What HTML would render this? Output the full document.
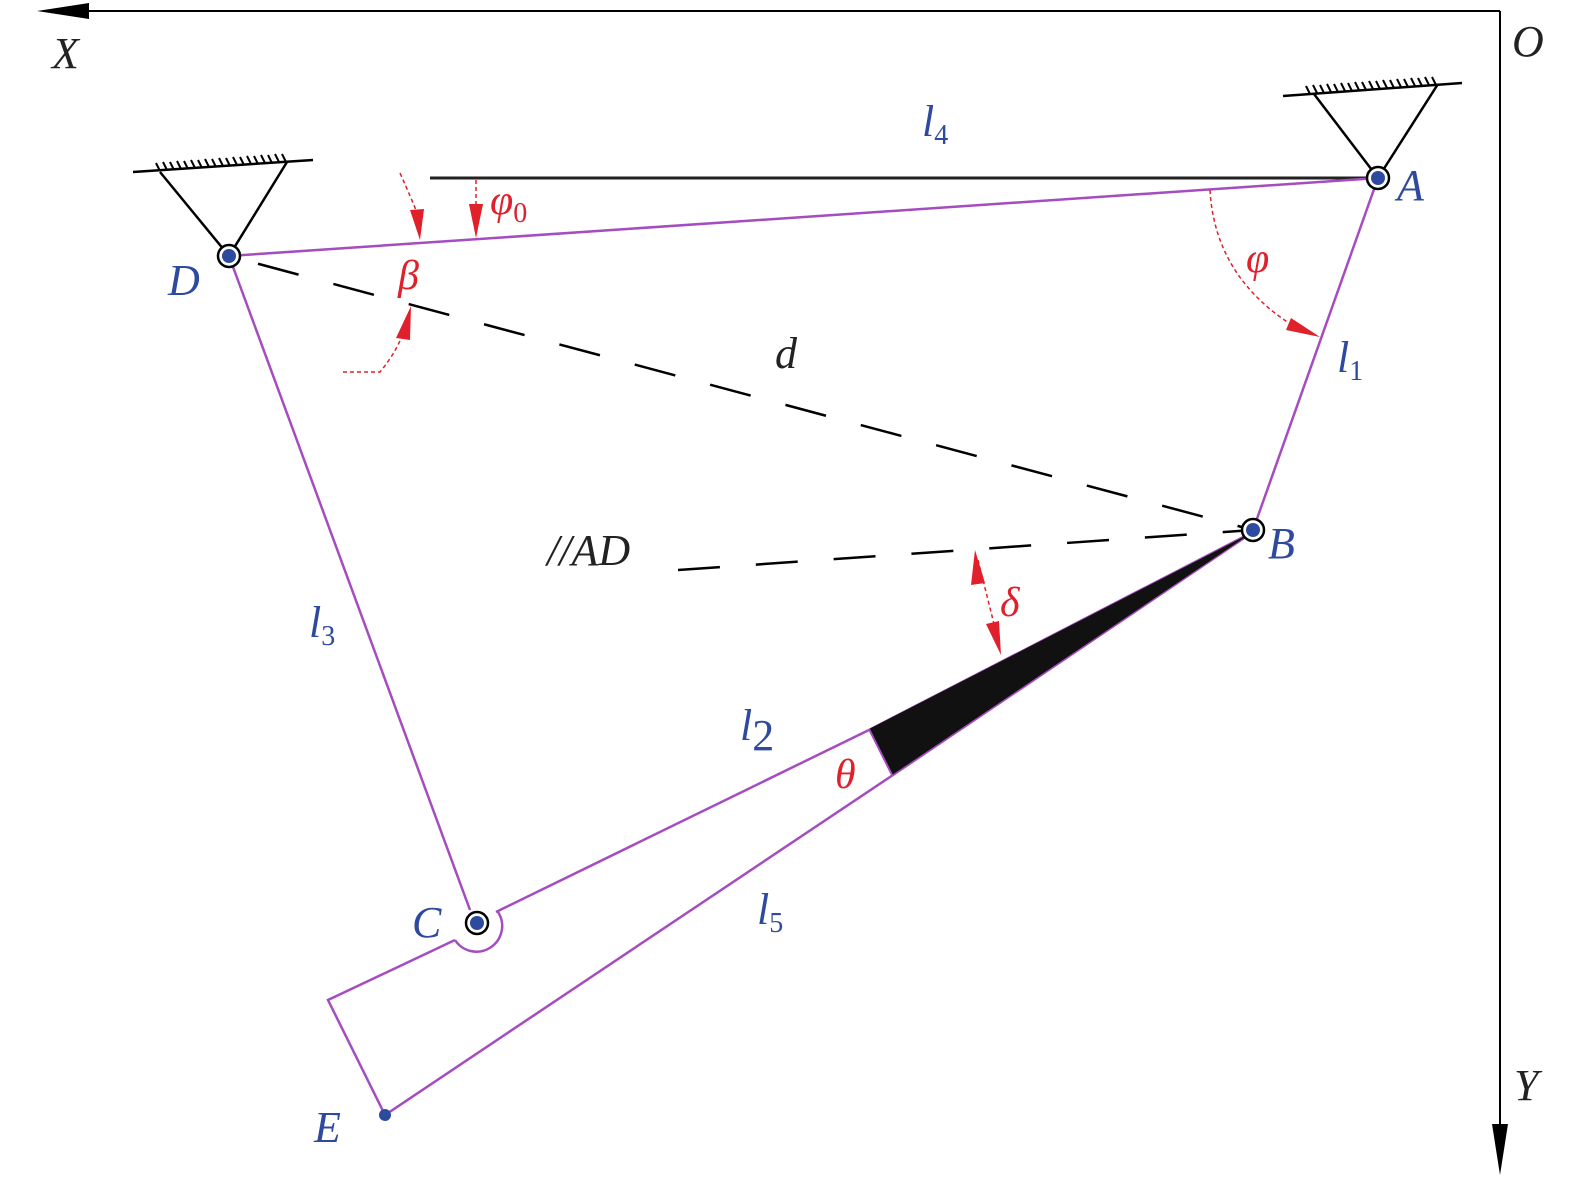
<!DOCTYPE html>
<html><head><meta charset="utf-8"><style>
html,body{margin:0;padding:0;background:#fff;}
svg{display:block;}
text{font-family:"Liberation Serif",serif;font-style:italic;}
.b{fill:#2e4a9e;font-size:44px;}
.r{fill:#e0202a;font-size:42px;}
.k{fill:#222;font-size:44px;}
</style></head><body>
<svg width="1575" height="1178" viewBox="0 0 1575 1178" xmlns="http://www.w3.org/2000/svg">
<line x1="80" y1="11" x2="1500" y2="11" stroke="#000" stroke-width="2"/>
<polygon points="37,11 89,3 89,19" fill="#000"/>
<line x1="1500" y1="11" x2="1500" y2="1130" stroke="#000" stroke-width="2"/>
<polygon points="1500,1175 1492,1124 1508,1124" fill="#000"/>
<text class="k" x="52" y="68">X</text>
<text class="k" x="1512" y="56">O</text>
<text class="k" x="1514" y="1100">Y</text>

<line x1="133" y1="172" x2="313" y2="160" stroke="#000" stroke-width="2.5"/>
<g stroke="#000" stroke-width="2">
<path d="M160,171l-4,-8M167,170l-4,-8M174,170l-4,-8M181,169l-4,-8M188,169l-4,-8M195,168l-4,-8M202,168l-4,-8M209,167l-4,-8M216,167l-4,-8M223,166l-4,-8M230,166l-4,-8M237,165l-4,-8M244,165l-4,-8M251,164l-4,-8M258,164l-4,-8M265,163l-4,-8M272,163l-4,-8M279,162l-4,-8M286,162l-4,-8"/>
</g>
<polyline points="160,172 229,256 287,162" fill="none" stroke="#000" stroke-width="2.5"/>
<line x1="1283" y1="96" x2="1462" y2="83" stroke="#000" stroke-width="2.5"/>
<g stroke="#000" stroke-width="2">
<path d="M1310,94l-4,-8M1317,93l-4,-8M1324,93l-4,-8M1331,92l-4,-8M1338,92l-4,-8M1345,91l-4,-8M1352,91l-4,-8M1359,90l-4,-8M1366,90l-4,-8M1373,89l-4,-8M1380,89l-4,-8M1387,88l-4,-8M1394,88l-4,-8M1401,87l-4,-8M1408,87l-4,-8M1415,86l-4,-8M1422,86l-4,-8M1429,85l-4,-8M1436,85l-4,-8"/>
</g>
<polyline points="1314,94 1378,178 1438,84" fill="none" stroke="#000" stroke-width="2.5"/>

<line x1="430" y1="178" x2="1378" y2="178" stroke="#222" stroke-width="3"/>

<line x1="229" y1="256" x2="1253" y2="530" stroke="#000" stroke-width="2.5" stroke-dasharray="42,36" stroke-dashoffset="-30"/>
<line x1="678" y1="570" x2="1253" y2="530" stroke="#000" stroke-width="2.5" stroke-dasharray="42,36"/>

<g stroke="#a54cc0" stroke-width="2.5" fill="none">
<line x1="229" y1="256" x2="1378" y2="178"/>
<line x1="1378" y1="178" x2="1253" y2="530"/>
<line x1="229" y1="256" x2="470" y2="910"/>
<polyline points="496,912 871,729 1253,532 893,775 385,1115 328,1000 455,940"/>
<path d="M455,940 A22,22 0 0 0 498,912"/>
</g>
<polygon points="869,729 1253,532 892,775" fill="#111"/>
<line x1="869" y1="729" x2="892" y2="775" stroke="#a54cc0" stroke-width="2"/>

<g stroke="#000" stroke-width="2.5" fill="#fff">
<circle cx="229" cy="256" r="11"/><circle cx="1378" cy="178" r="11"/>
<circle cx="1253" cy="530" r="11"/><circle cx="477" cy="923" r="11"/>
</g>
<g fill="#2e4a9e">
<circle cx="229" cy="256" r="7"/><circle cx="1378" cy="178" r="7"/>
<circle cx="1253" cy="530" r="7"/><circle cx="477" cy="923" r="7"/>
<circle cx="385" cy="1115" r="6"/>
</g>

<g stroke="#e0202a" stroke-width="1.5" fill="none" stroke-dasharray="4,3">
<path d="M400,173 Q412,200 418,215"/>
<line x1="476" y1="180" x2="476" y2="215"/>
<path d="M1210,190 Q1215,280 1300,330"/>
<path d="M343,372 L380,372 Q398,350 404,330"/>
<line x1="978" y1="560" x2="998" y2="640"/>
</g>
<g fill="#e0202a">
<polygon points="410,210 424,209 420,240"/>
<polygon points="469,204 483,204 476,238"/>
<polygon points="1291,318 1286,330 1320,337"/>
<polygon points="396,338 410,340 411,306"/>
<polygon points="971,585 985,583 975,550"/>
<polygon points="986,624 999,621 1001,655"/>
</g>

<text class="b" x="168" y="295">D</text>
<text class="b" x="1397" y="200">A</text>
<text class="b" x="1268" y="558">B</text>
<text class="b" x="412" y="937">C</text>
<text class="b" x="314" y="1142">E</text>
<text class="b" x="922" y="136">l<tspan font-size="28" dy="8" font-style="normal">4</tspan></text>
<text class="b" x="1337" y="372">l<tspan font-size="28" dy="8" font-style="normal">1</tspan></text>
<text class="b" x="309" y="637">l<tspan font-size="28" dy="8" font-style="normal">3</tspan></text>
<text class="b" x="740" y="740">l<tspan font-size="44" dy="10" font-style="normal">2</tspan></text>
<text class="b" x="757" y="924">l<tspan font-size="28" dy="8" font-style="normal">5</tspan></text>
<text class="k" x="775" y="368">d</text>
<text class="k" x="547" y="565">//AD</text>
<text class="r" x="490" y="214">φ<tspan font-size="28" dy="8" font-style="normal">0</tspan></text>
<text class="r" x="398" y="289">β</text>
<text class="r" x="1246" y="272">φ</text>
<text class="r" x="1000" y="616">δ</text>
<text class="r" x="835" y="788">θ</text>
</svg>
</body></html>
